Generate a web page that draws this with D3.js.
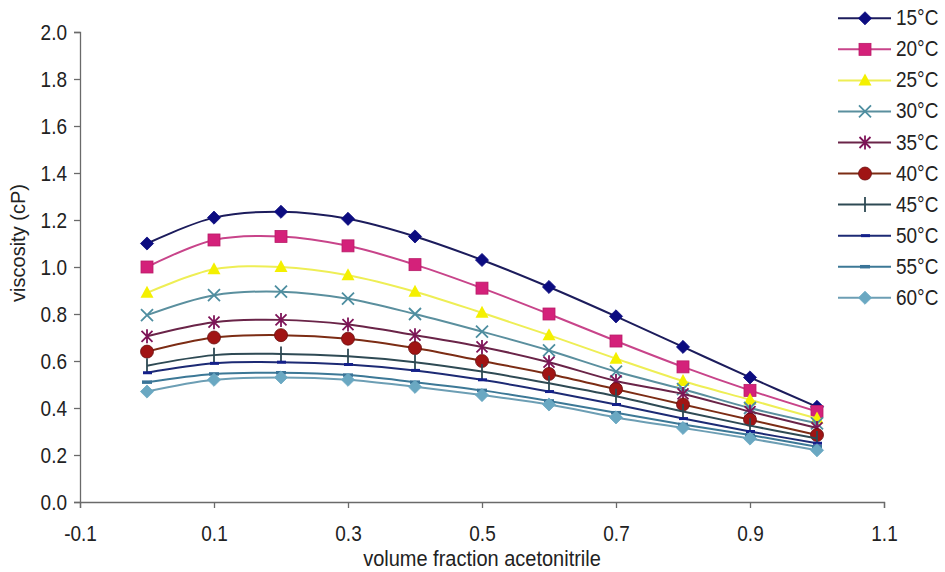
<!DOCTYPE html>
<html>
<head>
<meta charset="utf-8">
<script src="https://cdn.jsdelivr.net/npm/d3@7"></script>
<style>
  html, body { margin: 0; padding: 0; background: #ffffff; }
  svg { display: block; }
  text { font-family: Arial, "Liberation Sans", sans-serif; fill: #222; }
</style>
</head>
<body>
<svg id="chart" width="945" height="572"></svg>
<script>
// Viscosity of water/acetonitrile mixtures at several temperatures
const fractions = [0, 0.1, 0.2, 0.3, 0.4, 0.5, 0.6, 0.7, 0.8, 0.9, 1.0];
const seriesNames = ["15°C", "20°C", "25°C", "30°C", "35°C", "40°C", "45°C", "50°C", "55°C", "60°C"];
const visc15 = [1.10, 1.21, 1.235, 1.205, 1.13, 1.03, 0.915, 0.79, 0.66, 0.53, 0.405];
const visc20 = [1.00, 1.115, 1.13, 1.09, 1.01, 0.91, 0.80, 0.685, 0.575, 0.475, 0.385];
const visc25 = [0.89, 0.99, 1.00, 0.965, 0.895, 0.805, 0.71, 0.61, 0.515, 0.435, 0.355];
const visc30 = [0.795, 0.88, 0.895, 0.865, 0.80, 0.725, 0.645, 0.555, 0.48, 0.40, 0.335];
const visc35 = [0.705, 0.765, 0.775, 0.755, 0.71, 0.66, 0.595, 0.515, 0.46, 0.385, 0.315];
const visc40 = [0.64, 0.70, 0.71, 0.695, 0.655, 0.60, 0.545, 0.48, 0.415, 0.35, 0.285];
const visc45 = [0.58, 0.625, 0.63, 0.62, 0.595, 0.555, 0.505, 0.45, 0.385, 0.325, 0.27];
const visc50 = [0.55, 0.59, 0.595, 0.585, 0.56, 0.52, 0.47, 0.415, 0.355, 0.30, 0.25];
const visc55 = [0.51, 0.545, 0.55, 0.54, 0.51, 0.475, 0.43, 0.38, 0.33, 0.285, 0.235];
const visc60 = [0.47, 0.52, 0.53, 0.52, 0.49, 0.455, 0.415, 0.36, 0.315, 0.27, 0.22];
const xTickValues = [-0.1, 0.1, 0.3, 0.5, 0.7, 0.9, 1.1];
const yTickValues = [0, 0.2, 0.4, 0.6, 0.8, 1.0, 1.2, 1.4, 1.6, 1.8, 2.0];

const values = [visc15, visc20, visc25, visc30, visc35, visc40, visc45, visc50, visc55, visc60];

// Per-series appearance: line colour, marker colour, marker shape
const styles = [
  { line: "#1c1c5c", fill: "#0c0c80", marker: "diamond" },
  { line: "#c8448a", fill: "#d4217a", marker: "square" },
  { line: "#eeee55", fill: "#f4f000", marker: "triangle" },
  { line: "#5a8f9e", fill: "#4e8ea0", marker: "cross" },
  { line: "#6a2448", fill: "#7e1458", marker: "star" },
  { line: "#7c2c14", fill: "#a01414", marker: "circle" },
  { line: "#2e4a54", fill: "#2e4a54", marker: "vbar" },
  { line: "#1c2a74", fill: "#14208a", marker: "dash" },
  { line: "#3c7896", fill: "#3a7498", marker: "dash2" },
  { line: "#6c9eb4", fill: "#6aa8c2", marker: "diamond" }
];

const svg = d3.select("#chart");
const x = d3.scaleLinear().domain([-0.1, 1.1]).range([80, 884]);
const y = d3.scaleLinear().domain([0, 2.0]).range([502, 32]);
const fontSize = 19;
const stretch = 1.12;

// Plain hyphen-minus for negative tick labels
const fmt = d3.formatLocale({ decimal: ".", thousands: ",", grouping: [3], currency: ["", ""], minus: "-" }).format(".1f");

// Axes
const xAxis = svg.append("g").attr("transform", "translate(0,502)")
  .call(d3.axisBottom(x).tickValues(xTickValues).tickSize(6).tickFormat(fmt));
const yAxis = svg.append("g").attr("transform", "translate(80,0)")
  .call(d3.axisLeft(y).tickValues(yTickValues).tickSize(6).tickFormat(fmt));

[xAxis, yAxis].forEach(g => {
  g.select(".domain").attr("stroke", "#6a6a6a").attr("stroke-width", 1.3);
  g.selectAll(".tick line").attr("stroke", "#6a6a6a").attr("stroke-width", 1.3);
  g.selectAll(".tick text").attr("font-size", fontSize).attr("fill", "#222")
    .attr("font-family", "Arial, 'Liberation Sans', sans-serif");
});
xAxis.selectAll(".tick text").attr("y", 0).attr("dy", 0)
  .attr("transform", `translate(0,39) scale(1,${stretch})`);
yAxis.selectAll(".tick text").attr("x", 0).attr("dy", 0)
  .attr("transform", `translate(-13,7) scale(1,${stretch})`);

// Axis titles
svg.append("text")
  .attr("transform", `translate(${x(0.5)},566) scale(1,${stretch})`)
  .attr("text-anchor", "middle").attr("font-size", fontSize + 1)
  .text("volume fraction acetonitrile");
svg.append("text")
  .attr("transform", "translate(25,243) rotate(-90)")
  .attr("text-anchor", "middle").attr("font-size", fontSize + 1)
  .text("viscosity (cP)");

// Marker drawing
function drawMarker(g, kind, st) {
  switch (kind) {
    case "diamond":
      g.append("path").attr("d", d3.symbol(d3.symbolDiamond2, 110)())
        .attr("fill", st.fill).attr("stroke", st.fill).attr("stroke-width", 0.8);
      break;
    case "square":
      g.append("rect").attr("x", -6).attr("y", -6).attr("width", 12).attr("height", 12)
        .attr("fill", st.fill).attr("stroke", "#b81c68").attr("stroke-width", 0.8);
      break;
    case "triangle":
      g.append("path").attr("d", "M0,-7L6.5,5L-6.5,5Z").attr("fill", st.fill);
      break;
    case "cross":
      g.append("path").attr("d", "M-6,-6L6,6M-6,6L6,-6")
        .attr("stroke", st.fill).attr("stroke-width", 1.8).attr("fill", "none");
      break;
    case "star":
      g.append("path").attr("d", "M-5.5,-5.5L5.5,5.5M-5.5,5.5L5.5,-5.5M0,-7L0,7")
        .attr("stroke", st.fill).attr("stroke-width", 1.8).attr("fill", "none");
      break;
    case "circle":
      g.append("circle").attr("r", 6.5).attr("fill", st.fill)
        .attr("stroke", "#6a1010").attr("stroke-width", 0.8);
      break;
    case "vbar":
      g.append("path").attr("d", "M0,-7.5L0,7.5")
        .attr("stroke", st.fill).attr("stroke-width", 1.8);
      break;
    case "dash":
      g.append("path").attr("d", "M-4,0L5,0")
        .attr("stroke", st.fill).attr("stroke-width", 3);
      break;
    case "dash2":
      g.append("path").attr("d", "M-5,0L5,0")
        .attr("stroke", st.fill).attr("stroke-width", 3.5);
      break;
  }
}

const line = d3.line()
  .x(d => x(d[0]))
  .y(d => y(d[1]))
  .curve(d3.curveCatmullRom.alpha(0.5));

const plot = svg.append("g");
values.forEach((vals, i) => {
  const st = styles[i];
  const pts = fractions.map((f, j) => [f, vals[j]]);
  const sg = plot.append("g");
  sg.append("path").datum(pts).attr("d", line)
    .attr("fill", "none").attr("stroke", st.line).attr("stroke-width", 2);
  pts.forEach(p => {
    const mg = sg.append("g").attr("transform", `translate(${x(p[0])},${y(p[1])})`);
    drawMarker(mg, st.marker, st);
  });
});

// Legend
const legend = svg.append("g");
seriesNames.forEach((name, i) => {
  const st = styles[i];
  const ly = 18.3 + i * 31.05;
  const lg = legend.append("g").attr("transform", `translate(0,${ly})`);
  lg.append("line").attr("x1", 838).attr("x2", 891).attr("y1", 0).attr("y2", 0)
    .attr("stroke", st.line).attr("stroke-width", 2);
  const mg = lg.append("g").attr("transform", "translate(865,0)");
  drawMarker(mg, st.marker, st);
  lg.append("text")
    .attr("transform", `translate(896,7) scale(1,${stretch})`)
    .attr("font-size", fontSize).text(name);
});
</script>
</body>
</html>
